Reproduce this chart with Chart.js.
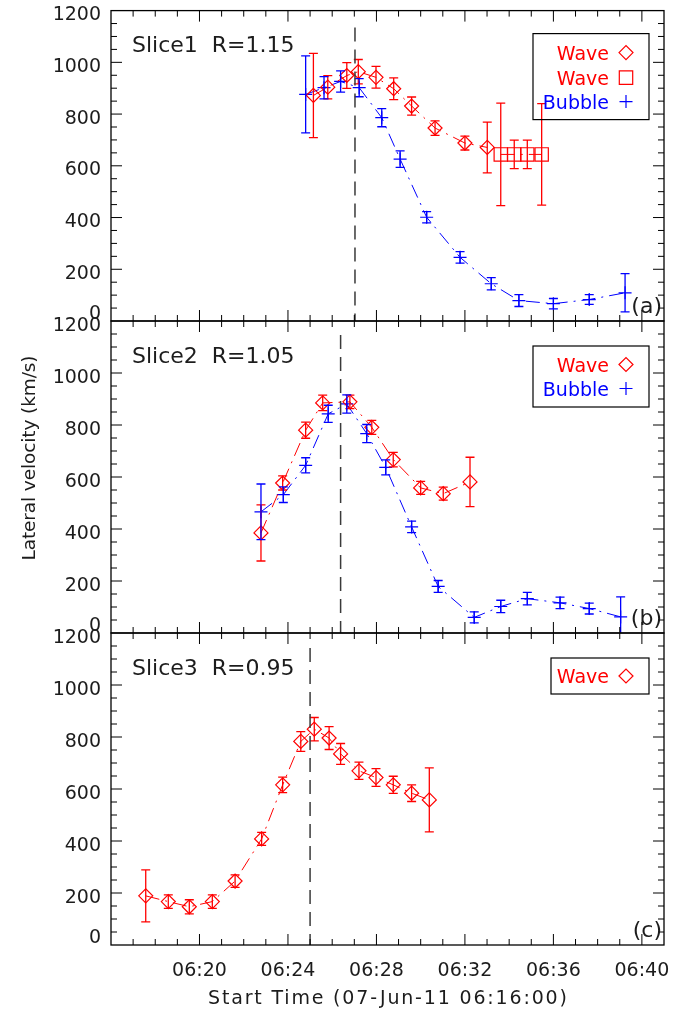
<!DOCTYPE html>
<html>
<head>
<meta charset="utf-8">
<script src="https://cdn.jsdelivr.net/npm/chart.js"></script>
<style>
  body { margin: 0; background: #fff; }
  canvas { position: absolute; left: 0; top: 0; }
</style>
</head>
<body>
<canvas id="panelA" width="689" height="1011"></canvas>
<canvas id="panelB" width="689" height="1011"></canvas>
<canvas id="panelC" width="689" height="1011"></canvas>
<script>
// times are minutes after 06:00, velocities in km/s
var waveA_t = [25.15, 25.80, 26.66, 27.18, 27.98, 28.78, 29.59, 30.65, 32.00, 33.01];
var waveA_v = [872, 904, 949, 964, 942, 898, 831, 746, 688, 671];
var waveA_e = [163, 45, 50, 47, 42, 42, 35, 28, 27, 98];
var squareA_t = [33.62, 34.23, 34.82, 35.47];
var squareA_v = [644, 644, 644, 644];
var squareA_e = [198, 55, 55, 196];
var bubbleA_t = [24.80, 25.63, 26.38, 27.22, 28.24, 29.07, 30.27, 31.78, 33.19, 34.44, 36.00, 37.62, 39.24];
var bubbleA_v = [876, 902, 926, 902, 786, 626, 401, 246, 144, 79, 67, 83, 109];
var bubbleA_e = [149, 43, 41, 35, 35, 32, 22, 22, 24, 23, 20, 19, 74];

var waveB_t = [22.78, 23.76, 24.80, 25.57, 26.80, 27.79, 28.76, 30.00, 31.02, 32.23];
var waveB_v = [385, 577, 780, 885, 889, 791, 667, 558, 536, 581];
var waveB_e = [108, 27, 31, 30, 26, 27, 28, 25, 25, 95];
var bubbleB_t = [22.78, 23.79, 24.80, 25.82, 26.66, 27.56, 28.42, 29.59, 30.79, 32.42, 33.62, 34.82, 36.30, 37.62, 39.04];
var bubbleB_v = [466, 532, 645, 843, 881, 767, 637, 408, 179, 60, 102, 132, 116, 94, 62];
var bubbleB_e = [107, 30, 29, 33, 35, 35, 29, 22, 23, 21, 24, 24, 22, 21, 77];

var waveC_t = [17.57, 18.59, 19.54, 20.58, 21.61, 22.81, 23.76, 24.58, 25.19, 25.86, 26.38, 27.21, 27.98, 28.76, 29.59, 30.39];
var waveC_v = [189, 167, 147, 167, 246, 408, 616, 783, 830, 796, 735, 670, 644, 616, 584, 558];
var waveC_e = [100, 26, 27, 26, 24, 25, 30, 38, 45, 44, 40, 33, 34, 33, 32, 123];

var markerTimes = [27.03, 26.38, 25.0];
var sliceTitles = ['Slice1  R=1.15', 'Slice2  R=1.05', 'Slice3  R=0.95'];
var panelLetters = ['(a)', '(b)', '(c)'];
var xTickValues = [20, 24, 28, 32, 36, 40];
var xTickLabels = ['06:20', '06:24', '06:28', '06:32', '06:36', '06:40'];
var yTickValues = [0, 200, 400, 600, 800, 1000, 1200];

var RED = 'rgb(255,0,0)';
var BLUE = 'rgb(0,0,255)';
var INK = '#1c1c1c';
var FONT = '"DejaVu Sans", sans-serif';
var DASHDOT = [14, 6, 2, 6];

function pts(t, v) {
  var out = [];
  for (var i = 0; i < t.length; i++) out.push({x: t[i], y: v[i]});
  return out;
}

function series(t, v, e, color, style, radius) {
  return {
    data: pts(t, v),
    errors: e,
    borderColor: color,
    borderWidth: 1,
    borderDash: DASHDOT,
    fill: false,
    pointStyle: style,
    pointRadius: radius,
    pointBorderColor: color,
    pointBackgroundColor: 'rgba(0,0,0,0)',
    pointBorderWidth: 1.2
  };
}

function spacedText(ctx, text, cx, y, width) {
  ctx.letterSpacing = '0px';
  var w0 = ctx.measureText(text).width;
  ctx.letterSpacing = ((width - w0) / (text.length - 1)).toFixed(2) + 'px';
  ctx.textAlign = 'left';
  ctx.fillText(text, cx - width / 2, y);
  ctx.letterSpacing = '0px';
}

function symbol(ctx, kind, x, y) {
  ctx.beginPath();
  if (kind == 'diamond') {
    ctx.moveTo(x - 7, y); ctx.lineTo(x, y - 7); ctx.lineTo(x + 7, y); ctx.lineTo(x, y + 7); ctx.closePath();
  } else if (kind == 'square') {
    ctx.rect(x - 6.7, y - 6.7, 13.4, 13.4);
  } else {
    ctx.moveTo(x - 6.5, y); ctx.lineTo(x + 6.5, y);
    ctx.moveTo(x, y - 6.5); ctx.lineTo(x, y + 6.5);
  }
  ctx.stroke();
}

var idlPanel = {
  id: 'idlPanel',
  afterDatasetsDraw: function(chart, args, opts) {
    var ctx = chart.ctx, a = chart.chartArea, ys = chart.scales.y;
    ctx.save();
    ctx.beginPath();
    ctx.rect(a.left, a.top, a.right - a.left, a.bottom - a.top);
    ctx.clip();
    chart.data.datasets.forEach(function(ds, i) {
      var meta = chart.getDatasetMeta(i);
      ctx.strokeStyle = ds.borderColor;
      ctx.lineWidth = 1.3;
      meta.data.forEach(function(p, j) {
        var v = ds.data[j].y, e = ds.errors[j];
        var y1 = ys.getPixelForValue(v + e), y2 = ys.getPixelForValue(v - e);
        ctx.beginPath();
        ctx.moveTo(p.x, y1); ctx.lineTo(p.x, y2);
        ctx.moveTo(p.x - 4.5, y1); ctx.lineTo(p.x + 4.5, y1);
        ctx.moveTo(p.x - 4.5, y2); ctx.lineTo(p.x + 4.5, y2);
        ctx.stroke();
      });
    });
    ctx.restore();
  },
  afterDraw: function(chart, args, opts) {
    var ctx = chart.ctx, a = chart.chartArea;
    var xs = chart.scales.x, ys = chart.scales.y;
    ctx.save();

    // event time marker
    var mx = xs.getPixelForValue(opts.marker);
    ctx.strokeStyle = '#3a3a3a';
    ctx.lineWidth = 1.5;
    ctx.setLineDash([14, 8]);
    ctx.beginPath();
    ctx.moveTo(mx, a.top + opts.markerGap);
    ctx.lineTo(mx, a.bottom);
    ctx.stroke();
    ctx.setLineDash([]);

    // frame
    ctx.strokeStyle = '#000';
    ctx.lineWidth = 1.3;
    ctx.strokeRect(a.left, a.top, a.right - a.left, a.bottom - a.top);

    // ticks, pointing inward
    ctx.lineWidth = 1;
    ctx.beginPath();
    for (var m = 17; m < 41; m++) {
      var x = xs.getPixelForValue(m);
      var len = xTickValues.indexOf(m) >= 0 ? 11 : 6;
      ctx.moveTo(x, a.bottom); ctx.lineTo(x, a.bottom - len);
      ctx.moveTo(x, a.top); ctx.lineTo(x, a.top + len);
    }
    for (var v = 50; v < 1200; v += 50) {
      var y = ys.getPixelForValue(v);
      var l2 = v % 200 == 0 ? 11 : 6;
      ctx.moveTo(a.left, y); ctx.lineTo(a.left + l2, y);
      ctx.moveTo(a.right, y); ctx.lineTo(a.right - l2, y);
    }
    ctx.stroke();

    // y tick labels
    ctx.fillStyle = INK;
    ctx.font = '19px ' + FONT;
    ctx.textAlign = 'right';
    ctx.textBaseline = 'alphabetic';
    yTickValues.forEach(function(v) {
      var y = ys.getPixelForValue(v);
      ctx.fillText(String(v), 101, v == 0 ? y - 2 : y + 9.5);
    });

    // x tick labels and axis titles on the bottom panel
    if (opts.bottomAxis) {
      ctx.textAlign = 'center';
      xTickValues.forEach(function(v, i) {
        ctx.fillText(xTickLabels[i], xs.getPixelForValue(v), 976);
      });
      spacedText(ctx, 'Start Time (07-Jun-11 06:16:00)', (a.left + a.right) / 2, 1004, 359);
      ctx.save();
      ctx.translate(28, 458);
      ctx.rotate(-Math.PI / 2);
      ctx.font = '18.5px ' + FONT;
      spacedText(ctx, 'Lateral velocity (km/s)', 0, 6.5, 205);
      ctx.restore();
    }

    // panel title and letter
    ctx.font = '22px ' + FONT;
    ctx.textAlign = 'left';
    ctx.fillText(opts.title, 132, a.top + 41.5);
    ctx.textAlign = 'right';
    ctx.fillText(opts.letter, 662, a.bottom - 8);

    // legend
    var L = opts.legend;
    ctx.strokeStyle = '#000';
    ctx.lineWidth = 1.2;
    ctx.strokeRect(L.x, a.top + L.y, L.w, L.h);
    ctx.font = '19px ' + FONT;
    L.rows.forEach(function(r) {
      ctx.fillStyle = r.color;
      ctx.strokeStyle = r.color;
      ctx.textAlign = 'right';
      ctx.fillText(r.label, 609, a.top + r.y + 7);
      ctx.lineWidth = 1.2;
      symbol(ctx, r.sym, 626, a.top + r.y);
    });
    ctx.restore();
  }
};

function panelChart(id, top, bottom, datasets, extra) {
  return new Chart(document.getElementById(id), {
    type: 'line',
    data: { datasets: datasets },
    options: {
      responsive: false,
      animation: false,
      events: [],
      layout: { padding: { left: 111, right: 25, top: top, bottom: 1011 - bottom } },
      scales: {
        x: { type: 'linear', min: 16, max: 41, display: false },
        y: { type: 'linear', min: 0, max: 1200, display: false }
      },
      elements: { line: { tension: 0 } },
      plugins: {
        legend: { display: false },
        tooltip: { enabled: false },
        idlPanel: extra
      }
    },
    plugins: [idlPanel]
  });
}

panelChart('panelA', 10, 321, [
  series(waveA_t, waveA_v, waveA_e, RED, 'rectRot', 7),
  series(squareA_t, squareA_v, squareA_e, RED, 'rect', 9.4),
  series(bubbleA_t, bubbleA_v, bubbleA_e, BLUE, 'cross', 6.5)
], {
  title: sliceTitles[0], letter: panelLetters[0], marker: markerTimes[0], markerGap: 17,
  bottomAxis: false,
  legend: { x: 533, y: 23, w: 116, h: 86, rows: [
    { label: 'Wave', color: RED, sym: 'diamond', y: 42 },
    { label: 'Wave', color: RED, sym: 'square', y: 67 },
    { label: 'Bubble', color: BLUE, sym: 'plus', y: 91 }
  ] }
});

panelChart('panelB', 321, 633, [
  series(waveB_t, waveB_v, waveB_e, RED, 'rectRot', 7),
  series(bubbleB_t, bubbleB_v, bubbleB_e, BLUE, 'cross', 6.5)
], {
  title: sliceTitles[1], letter: panelLetters[1], marker: markerTimes[1], markerGap: 14,
  bottomAxis: false,
  legend: { x: 533, y: 25, w: 116, h: 61, rows: [
    { label: 'Wave', color: RED, sym: 'diamond', y: 43.5 },
    { label: 'Bubble', color: BLUE, sym: 'plus', y: 67.5 }
  ] }
});

panelChart('panelC', 633, 945, [
  series(waveC_t, waveC_v, waveC_e, RED, 'rectRot', 7)
], {
  title: sliceTitles[2], letter: panelLetters[2], marker: markerTimes[2], markerGap: 15,
  bottomAxis: true,
  legend: { x: 551, y: 25, w: 98, h: 36, rows: [
    { label: 'Wave', color: RED, sym: 'diamond', y: 43 }
  ] }
});
</script>
</body>
</html>
